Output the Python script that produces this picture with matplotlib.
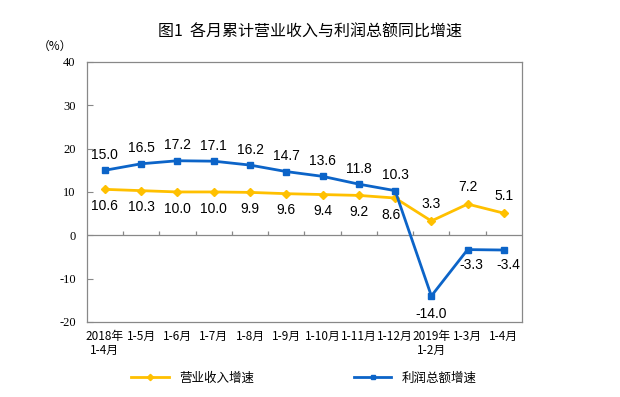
import matplotlib.pyplot as plt
import numpy as np

plt.rcParams['font.family'] = ['Liberation Sans', 'Noto Sans CJK SC', 'DejaVu Sans']

categories = ["2018年\n1-4月", "1-5月", "1-6月", "1-7月", "1-8月", "1-9月", "1-10月",
              "1-11月", "1-12月", "2019年\n1-2月", "1-3月", "1-4月"]
revenue = [10.6, 10.3, 10.0, 10.0, 9.9, 9.6, 9.4, 9.2, 8.6, 3.3, 7.2, 5.1]
profit = [15.0, 16.5, 17.2, 17.1, 16.2, 14.7, 13.6, 11.8, 10.3, -14.0, -3.3, -3.4]
yticks = [-20, -10, 0, 10, 20, 30, 40]

yellow = "#FFC000"
blue = "#0C64C8"

fig = plt.figure(figsize=(6.2, 3.97), dpi=100)
ax = fig.add_axes([0.140, 0.189, 0.702, 0.655])

x = np.arange(len(categories))
ax.plot(x, revenue, color=yellow, lw=2, marker="D", ms=4, label="营业收入增速")
ax.plot(x, profit, color=blue, lw=2, marker="s", ms=3.8, label="利润总额增速")

# revenue labels
for i, v in enumerate(revenue):
    if i >= 9:
        ax.annotate(f"{v:.1f}", (i, v), xytext=(0, 7), textcoords="offset points",
                    ha="center", va="bottom", fontsize=10)
    else:
        dx = -3 if i == 8 else 0
        ax.annotate(f"{v:.1f}", (i, v), xytext=(dx, -7), textcoords="offset points",
                    ha="center", va="top", fontsize=10)

# profit labels
for i, v in enumerate(profit):
    if i == 9:
        ax.annotate(f"{v:.1f}", (i, v), xytext=(0, -8), textcoords="offset points",
                    ha="center", va="top", fontsize=10)
    elif i > 9:
        ax.annotate(f"{v:.1f}", (i, v), xytext=(3, -6), textcoords="offset points",
                    ha="center", va="top", fontsize=10)
    else:
        ax.annotate(f"{v:.1f}", (i, v), xytext=(0, 6), textcoords="offset points",
                    ha="center", va="bottom", fontsize=10)

ax.set_xlim(-0.5, len(categories) - 0.5)
ax.set_ylim(-20, 40)
ax.set_yticks(yticks)
ax.set_yticklabels([str(t) for t in yticks], fontsize=9, family=['Liberation Serif'])
ax.set_xticks(x)
ax.set_xticklabels(categories, fontsize=8.5, family=['Noto Sans CJK SC'], linespacing=1.1)
ax.tick_params(axis="x", length=0, pad=6)
ax.tick_params(axis="y", direction="in", length=4, color="#888888", pad=8)

for s in ax.spines.values():
    s.set_color("#888888")
    s.set_linewidth(0.9)

# zero line with category boundary ticks
ax.axhline(0, color="#888888", lw=0.9, zorder=1)
ax.vlines(np.arange(len(categories) - 1) + 0.5, 0, 0.9, color="#888888", lw=0.9, zorder=1)

fig.text(0.5, 0.918, "图1  各月累计营业收入与利润总额同比增速", ha="center", va="center",
         fontsize=11.5, family=['Noto Sans CJK SC'], fontweight="medium")
fig.text(0.088, 0.883, "（%）", ha="center", va="center", fontsize=8.5, family=['Noto Sans CJK SC'])

leg = fig.legend(loc="center", bbox_to_anchor=(0.49, 0.048), ncol=2, frameon=False,
                 prop={"family": "Noto Sans CJK SC", "size": 9}, columnspacing=8,
                 handlelength=3, markerscale=0.8)

fig.savefig("out.png", dpi=100)
